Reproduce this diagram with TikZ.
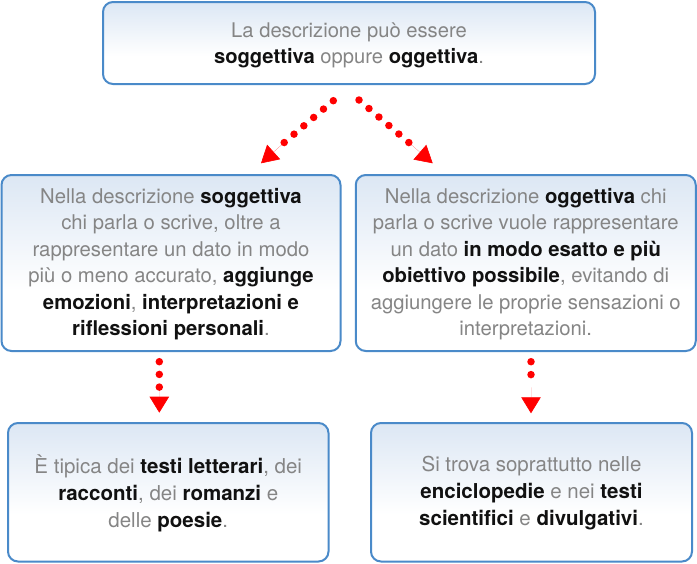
\documentclass[tikz,border=0pt]{standalone}
\usepackage{fontspec}
\setmainfont{TeX Gyre Heros}
\usetikzlibrary{arrows.meta}
\definecolor{boxtop}{HTML}{DCE7F4}
\definecolor{boxline}{HTML}{4A8AC9}
\definecolor{txtgray}{HTML}{858585}
\definecolor{txtbold}{HTML}{111111}
\pgfdeclareverticalshading{boxshade}{100bp}{color(0bp)=(white); color(25bp)=(white); color(42bp)=(white); color(75bp)=(boxtop); color(100bp)=(boxtop)}
\newcommand\kw[1]{\textcolor{txtbold}{\textbf{#1}}}
\tikzset{
  infobox/.style={draw=boxline, line width=2pt, rounded corners=10pt, shading=boxshade, inner sep=0pt},
  infotext/.style={align=center, text=txtgray, inner sep=0pt},
  dotline/.style={draw=red, line width=7.5pt, line cap=round, dash pattern=on 0pt off #1},
  tipline/.style={draw=red, fill=red, line width=0.6pt, line cap=butt, dash pattern=on 0pt off 500pt,
    -{Triangle[length=#1,width=19.5pt]}}
}
\begin{document}
\begin{tikzpicture}[x=1pt,y=-1pt]
\useasboundingbox[fill=white] (0,0) rectangle (697,563);
% boxes
\node[infobox, minimum width=492pt, minimum height=82pt] (top) at (349,43) {};
\node[infobox, minimum width=339pt, minimum height=176pt] (sogg) at (171,263) {};
\node[infobox, minimum width=340pt, minimum height=176pt] (ogg) at (525.75,263) {};
\node[infobox, minimum width=320.5pt, minimum height=138.5pt] (lett) at (168.25,492.25) {};
\node[infobox, minimum width=321pt, minimum height=138.5pt] (enc) at (531.5,492.25) {};
% texts
\node[infotext, font=\fontsize{20.2}{25.6}\selectfont] (topT) at ([yshift=-2.5pt]top.center)
  {La descrizione può essere\\ \kw{soggettiva} oppure \kw{oggettiva}.};
\node[infotext, font=\fontsize{20.3}{26.5}\selectfont] (soggT) at ([yshift=-1pt]sogg.center)
  {Nella descrizione \kw{soggettiva}\\ chi parla o scrive, oltre a\\ rappresentare un dato in modo\\ più o meno accurato, \kw{aggiunge}\\ \kw{emozioni}, \kw{interpretazioni e}\\ \kw{riflessioni personali}.};
\node[infotext, font=\fontsize{20.3}{26.5}\selectfont] (oggT) at ([yshift=-1pt]ogg.center)
  {Nella descrizione \kw{oggettiva} chi\\ parla o scrive vuole rappresentare\\ un dato \kw{in modo esatto e più}\\ \kw{obiettivo possibile}, evitando di\\ aggiungere le proprie sensazioni o\\ interpretazioni.};
\node[infotext, font=\fontsize{20.5}{26.7}\selectfont] (lettT) at ([yshift=-1pt]lett.center)
  {È tipica dei \kw{testi letterari}, dei\\ \kw{racconti}, dei \kw{romanzi} e\\ delle \kw{poesie}.};
\node[infotext, font=\fontsize{20.5}{26.7}\selectfont] (encT) at ([yshift=-1pt]enc.center)
  {Si trova soprattutto nelle\\ \kw{enciclopedie} e nei \kw{testi}\\ \kw{scientifici} e \kw{divulgativi}.};
% arrow coordinates
\coordinate (l1) at (333.3,100.7); \coordinate (l6) at (284,142.7); \coordinate (ltip) at (261,163.3);
\coordinate (r1) at (359,100);     \coordinate (r6) at (409,142.7); \coordinate (rtip) at (432.7,163.3);
\coordinate (v1) at (159.3,361.7); \coordinate (v3) at (159.3,387.3); \coordinate (vtip) at (159.3,412.7);
\coordinate (w1) at (531,361.7);   \coordinate (w3) at (531,387.3);   \coordinate (wtip) at (531,413.3);
\draw[dotline=12.9pt] (l1) -- (l6);
\draw[tipline=17pt] (l6) -- (ltip);
\draw[dotline=13.1pt] (r1) -- (r6);
\draw[tipline=17pt] (r6) -- (rtip);
\draw[dotline=12.7pt] (v1) -- (v3);
\draw[tipline=16pt] (v3) -- (vtip);
\draw[dotline=12.9pt] (w1) -- (w3);
\draw[tipline=16pt] (w3) -- (wtip);
\end{tikzpicture}
\end{document}
